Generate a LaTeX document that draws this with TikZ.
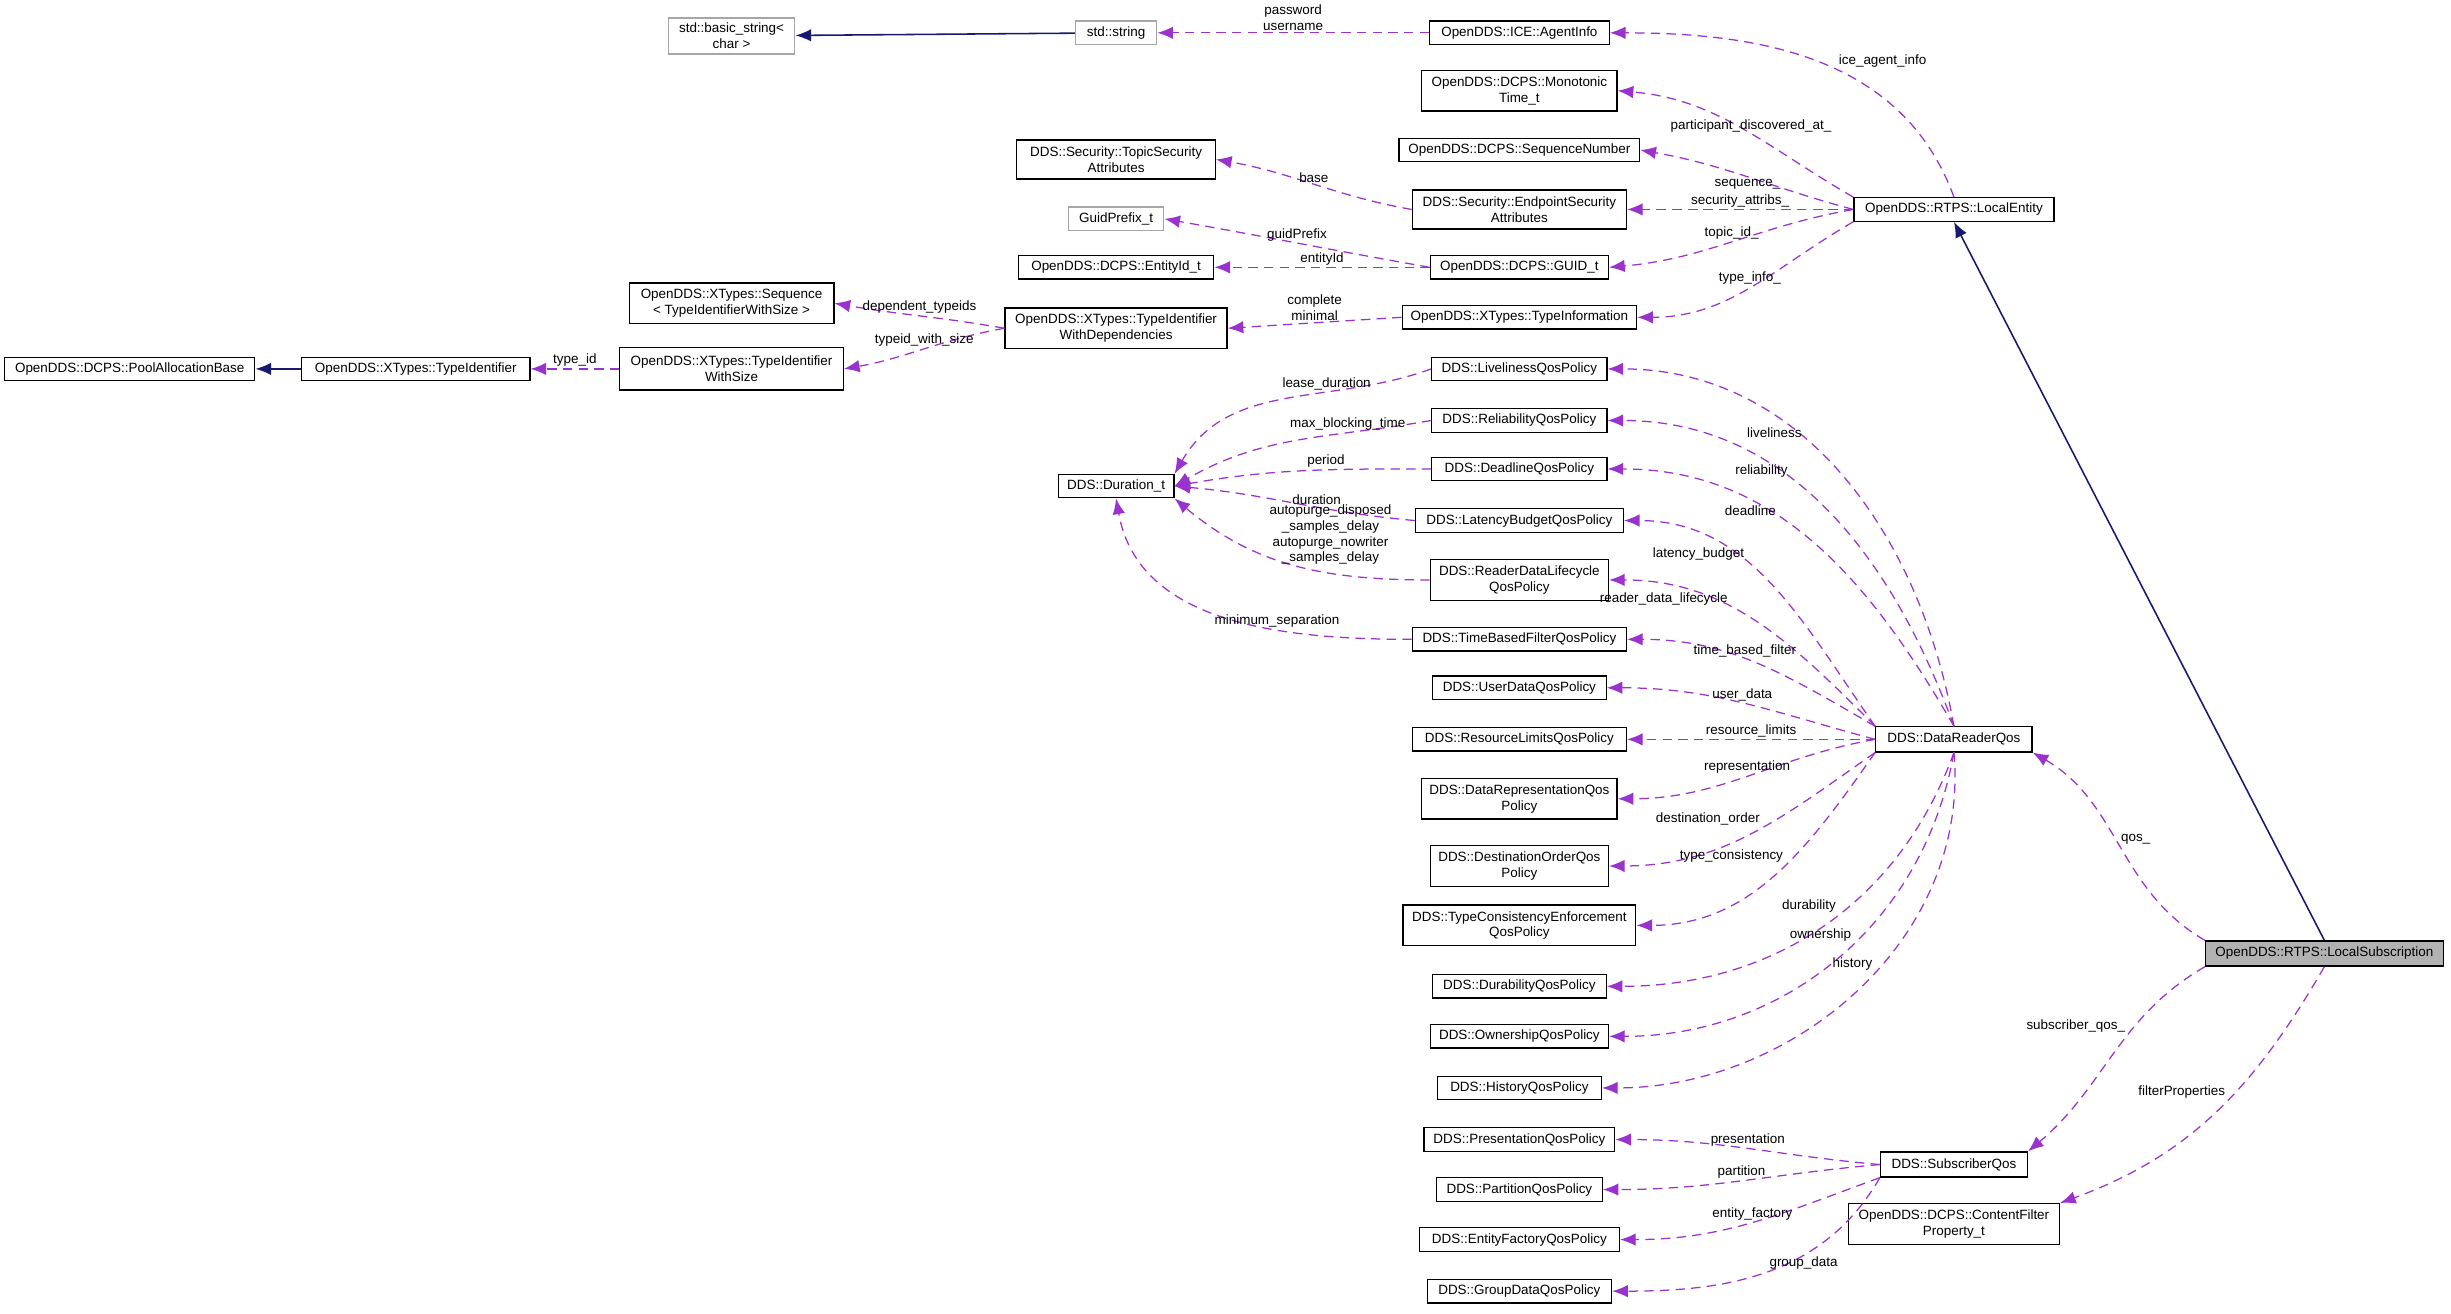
\documentclass[tikz,border=0pt]{standalone}
\usepackage{fontspec}
\setmainfont{Liberation Sans}
\usetikzlibrary{arrows.meta}
\definecolor{mem}{HTML}{9A32CD}
\definecolor{inh}{HTML}{191970}
\begin{document}
\begin{tikzpicture}[x=0.5pt,y=-0.5pt,
  box/.style={draw=black,fill=white,inner sep=1pt,align=center,font=\fontsize{4.3pt}{5pt}\selectfont,line width=0.4pt},
  gbox/.style={box,draw=gray!70},
  cur/.style={box,fill=gray!60},
  mm/.style={draw=mem,dashed,dash pattern=on 3pt off 2pt,line width=0.4pt,-{Latex[length=5pt,width=4pt]}},
  ih/.style={draw=inh,line width=0.5pt,-{Latex[length=5pt,width=4pt]}},
  lbl/.style={font=\fontsize{4.3pt}{5pt}\selectfont,align=center,inner sep=0.5pt}]
\useasboundingbox (0,0) rectangle (1568,840);
\newcommand\bx[6][box]{\node[#1,minimum width=#5*0.5pt,minimum height=#6*0.5pt] (#2) at (#3) {#4};}
\bx[gbox]{bstr}{468,23}{std::basic\_string<\\ char >}{81}{23}
\bx[gbox]{sstr}{714,21}{std::string}{52}{15}
\bx{agent}{972,21}{OpenDDS::ICE::AgentInfo}{115}{15}
\bx{mono}{972,58}{OpenDDS::DCPS::Monotonic\\Time\_t}{125}{26}
\bx{tsa}{714,102}{DDS::Security::TopicSecurity\\Attributes}{127}{25}
\bx{seq}{972,96}{OpenDDS::DCPS::SequenceNumber}{154}{15}
\bx{esa}{972,134}{DDS::Security::EndpointSecurity\\Attributes}{137}{25}
\bx{le}{1250,134}{OpenDDS::RTPS::LocalEntity}{128}{15}
\bx[gbox]{gp}{714,140}{GuidPrefix\_t}{61}{15}
\bx{eid}{714,171}{OpenDDS::DCPS::EntityId\_t}{125}{15}
\bx{guid}{972,171}{OpenDDS::DCPS::GUID\_t}{114}{15}
\bx{xseq}{468,194}{OpenDDS::XTypes::Sequence\\< TypeIdentifierWithSize >}{131}{26}
\bx{tiwd}{714,210}{OpenDDS::XTypes::TypeIdentifier\\WithDependencies}{142}{26}
\bx{tinfo}{972,203}{OpenDDS::XTypes::TypeInformation}{150}{15}
\bx{pab}{83,236}{OpenDDS::DCPS::PoolAllocationBase}{160}{15}
\bx{tid}{266,236}{OpenDDS::XTypes::TypeIdentifier}{146}{15}
\bx{tiws}{468,236}{OpenDDS::XTypes::TypeIdentifier\\WithSize}{143}{27}
\bx{live}{972,236}{DDS::LivelinessQosPolicy}{112}{15}
\bx{rel}{972,269}{DDS::ReliabilityQosPolicy}{112}{15}
\bx{dur}{714,311}{DDS::Duration\_t}{74}{15}
\bx{dead}{972,300}{DDS::DeadlineQosPolicy}{112}{15}
\bx{lat}{972,333}{DDS::LatencyBudgetQosPolicy}{133}{15}
\bx{rdl}{972,371}{DDS::ReaderDataLifecycle\\QosPolicy}{114}{26}
\bx{tbf}{972,409}{DDS::TimeBasedFilterQosPolicy}{137}{15}
\bx{ud}{972,440}{DDS::UserDataQosPolicy}{111}{15}
\bx{rl}{972,473}{DDS::ResourceLimitsQosPolicy}{137}{15}
\bx{drep}{972,511}{DDS::DataRepresentationQos\\Policy}{125}{26}
\bx{dord}{972,554}{DDS::DestinationOrderQos\\Policy}{114}{26}
\bx{tce}{972,592}{DDS::TypeConsistencyEnforcement\\QosPolicy}{149}{26}
\bx{dura}{972,631}{DDS::DurabilityQosPolicy}{111}{15}
\bx{own}{972,663}{DDS::OwnershipQosPolicy}{114}{15}
\bx{hist}{972,696}{DDS::HistoryQosPolicy}{105}{15}
\bx{pres}{972,729}{DDS::PresentationQosPolicy}{122}{15}
\bx{part}{972,761}{DDS::PartitionQosPolicy}{106}{15}
\bx{ef}{972,793}{DDS::EntityFactoryQosPolicy}{128}{15}
\bx{gd}{972,826}{DDS::GroupDataQosPolicy}{118}{15}
\bx{drq}{1250,473}{DDS::DataReaderQos}{100}{16}
\bx[cur]{ls}{1487,610}{OpenDDS::RTPS::LocalSubscription}{152}{16}
\bx{sq}{1250,745}{DDS::SubscriberQos}{94}{16}
\bx{cfp}{1250,783}{OpenDDS::DCPS::ContentFilter\\Property\_t}{135}{26}
% inheritance
\draw[ih] (sstr) -- (bstr);
\draw[ih] (tid) -- (pab);
\draw[ih] (ls.north) -- (le.south);
% members
\draw[mm] (agent) -- (sstr) node[lbl,midway,above] (l1) {password\\username};
\draw[mm] (le.north) to[out=110,in=0] node[lbl,pos=0.45,above right] (l2) {ice\_agent\_info} (agent.east);
\draw[mm] (le.north west) to[out=150,in=-5] node[lbl,pos=0.45,above] (l3) {participant\_discovered\_at\_} (mono.east);
\draw[mm] (le.west) to[out=165,in=-10] node[lbl,pos=0.5,below] (l4) {sequence\_} (seq.east);
\draw[mm] (le.west) to[out=180,in=0] node[lbl,pos=0.5,above] (l5) {security\_attribs\_} (esa.east);
\draw[mm] (le.west) to[out=190,in=5] node[lbl,pos=0.5,above] (l6) {topic\_id\_} (guid.east);
\draw[mm] (le.south west) to[out=210,in=0] node[lbl,pos=0.5,above] (l7) {type\_info\_} (tinfo.east);
\draw[mm] (esa.west) to[out=170,in=-10] node[lbl,midway,above] (l8) {base} (tsa.east);
\draw[mm] (guid.west) to[out=170,in=-10] node[lbl,midway,above] (l9) {guidPrefix} (gp.east);
\draw[mm] (guid.west) -- node[lbl,midway,above] (l10) {entityId} (eid.east);
\draw[mm] (tinfo.west) -- node[lbl,midway,above] (l11) {complete\\minimal} (tiwd.east);
\draw[mm] (tiwd.west) to[out=170,in=-10] node[lbl,midway,above] (l12) {dependent\_typeids} (xseq.east);
\draw[mm] (tiwd.west) to[out=190,in=10] node[lbl,midway,above] (l13) {typeid\_with\_size} (tiws.east);
\draw[mm] (tiws.west) -- node[lbl,midway,above] (l14) {type\_id} (tid.east);
% durations
\draw[mm] (live.west) to[out=200,in=60] node[lbl,pos=0.35,above] (l15) {lease\_duration} (dur.north east);
\draw[mm] (rel.west) to[out=190,in=30] node[lbl,pos=0.3,above] (l16) {max\_blocking\_time} (dur.east);
\draw[mm] (dead.west) to[out=180,in=10] node[lbl,pos=0.4,above] (l17) {period} (dur.east);
\draw[mm] (lat.west) to[out=175,in=-5] node[lbl,pos=0.4,above] (l18) {duration} (dur.east);
\draw[mm] (rdl.west) to[out=180,in=-40] node[lbl,pos=0.35,above=2pt] (l19) {autopurge\_disposed\\\_samples\_delay\\autopurge\_nowriter\\\_samples\_delay} (dur.south east);
\draw[mm] (tbf.west) to[out=180,in=-80] node[lbl,pos=0.35,above] (l20) {minimum\_separation} (dur.south);
% DataReaderQos members
\draw[mm] (drq.north) to[out=100,in=0] node[lbl,pos=0.6,above left] (m1) {liveliness} (live.east);
\draw[mm] (drq.north) to[out=110,in=0] node[lbl,pos=0.6,above left] (m2) {reliability} (rel.east);
\draw[mm] (drq.north) to[out=120,in=0] node[lbl,pos=0.6,above left] (m3) {deadline} (dead.east);
\draw[mm] (drq.north west) to[out=125,in=0] node[lbl,pos=0.6,above left] (m4) {latency\_budget} (lat.east);
\draw[mm] (drq.north west) to[out=135,in=0] node[lbl,pos=0.6,above left] (m5) {reader\_data\_lifecycle} (rdl.east);
\draw[mm] (drq.north west) to[out=150,in=0] node[lbl,pos=0.55,above] (m6) {time\_based\_filter} (tbf.east);
\draw[mm] (drq.west) to[out=165,in=0] node[lbl,pos=0.5,above] (m7) {user\_data} (ud.east);
\draw[mm] (drq.west) -- node[lbl,pos=0.5,above] (m8) {resource\_limits} (rl.east);
\draw[mm] (drq.west) to[out=190,in=0] node[lbl,pos=0.5,above] (m9) {representation} (drep.east);
\draw[mm] (drq.south west) to[out=215,in=0] node[lbl,pos=0.45,above left] (m10) {destination\_order} (dord.east);
\draw[mm] (drq.south west) to[out=235,in=0] node[lbl,pos=0.45,above left] (m11) {type\_consistency} (tce.east);
\draw[mm] (drq.south) to[out=250,in=0] node[lbl,pos=0.45,above left] (m12) {durability} (dura.east);
\draw[mm] (drq.south) to[out=260,in=0] node[lbl,pos=0.45,above left] (m13) {ownership} (own.east);
\draw[mm] (drq.south) to[out=275,in=0] node[lbl,pos=0.45,above left] (m14) {history} (hist.east);
% LocalSubscription members
\draw[mm] (ls.north west) to[out=150,in=-30] node[lbl,pos=0.5,above right] (n1) {qos\_} (drq.south east);
\draw[mm] (ls.south west) to[out=210,in=40] node[lbl,pos=0.4,above left] (n2) {subscriber\_qos\_} (sq.north east);
\draw[mm] (ls.south) to[out=240,in=20] node[lbl,pos=0.45,above left] (n3) {filterProperties} (cfp.north east);
% SubscriberQos members
\draw[mm] (sq.west) to[out=175,in=0] node[lbl,pos=0.5,above] (s1) {presentation} (pres.east);
\draw[mm] (sq.west) to[out=185,in=0] node[lbl,pos=0.5,above] (s2) {partition} (part.east);
\draw[mm] (sq.south west) to[out=200,in=0] node[lbl,pos=0.5,above] (s3) {entity\_factory} (ef.east);
\draw[mm] (sq.south west) to[out=240,in=0] node[lbl,pos=0.5,above right] (s4) {group\_data} (gd.east);
\end{tikzpicture}
\end{document}
